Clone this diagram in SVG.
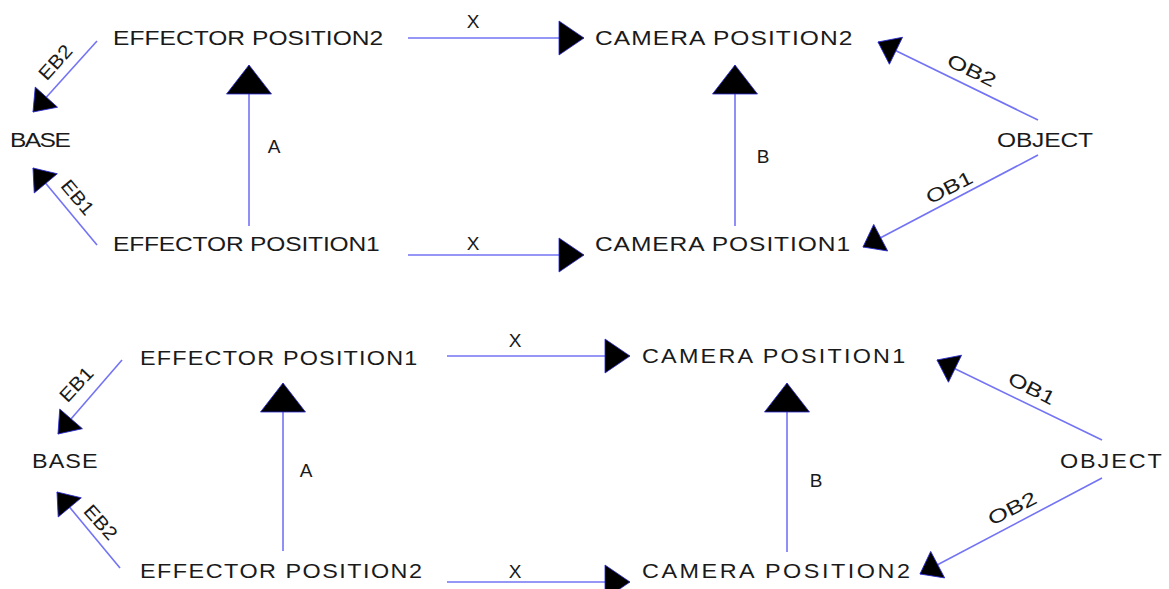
<svg xmlns="http://www.w3.org/2000/svg" width="1169" height="589" viewBox="0 0 1169 589">
<style>
  .bg{fill:#ffffff}
  .node{font-family:"Liberation Sans",Arial,sans-serif;fill:#1a1a1a;font-size:21px}
  .node2{font-family:"Liberation Sans",Arial,sans-serif;fill:#1a1a1a;font-size:20px}
  .lbl{font-family:"Liberation Sans",Arial,sans-serif;fill:#1a1a1a;font-size:19px;text-anchor:middle}
  .edge{stroke:#7373f5;stroke-width:1.6;fill:none}
  .head{fill:#000000;stroke:#2a2ad0;stroke-width:0.8}
</style>
<defs>
  <marker id="big" markerUnits="userSpaceOnUse" viewBox="-29 -22.5 30 45" refX="0" refY="0" markerWidth="30" markerHeight="45" orient="auto" overflow="visible">
    <path class="head" d="M0,0 L-29,-22.5 L-29,22.5 Z"/>
  </marker>
  <marker id="mid" markerUnits="userSpaceOnUse" viewBox="-25 -17 26 34" refX="0" refY="0" markerWidth="26" markerHeight="34" orient="auto" overflow="visible">
    <path class="head" d="M0,0 L-25,-17 L-25,17 Z"/>
  </marker>
  <marker id="small" markerUnits="userSpaceOnUse" viewBox="-20 -15 21 30" refX="0" refY="0" markerWidth="21" markerHeight="30" orient="auto" overflow="visible">
    <path class="head" d="M0,0 L-20,-15 L-20,15 Z"/>
  </marker>
</defs>
<rect class="bg" x="0" y="0" width="1169" height="589"/>

<g id="connectors">
  <!-- top diagram -->
  <line class="edge" x1="97" y1="41" x2="33" y2="112" marker-end="url(#small)"/>
  <line class="edge" x1="97" y1="245" x2="33" y2="168" marker-end="url(#small)"/>
  <line class="edge" x1="249" y1="226" x2="249" y2="65" marker-end="url(#big)"/>
  <line class="edge" x1="735" y1="226" x2="735" y2="65" marker-end="url(#big)"/>
  <line class="edge" x1="408" y1="38" x2="584" y2="38" marker-end="url(#mid)"/>
  <line class="edge" x1="408" y1="255" x2="584" y2="255" marker-end="url(#mid)"/>
  <line class="edge" x1="1038" y1="120" x2="878" y2="42" marker-end="url(#small)"/>
  <line class="edge" x1="1038" y1="155" x2="863" y2="247" marker-end="url(#small)"/>
  <!-- bottom diagram -->
  <line class="edge" x1="122" y1="360" x2="58" y2="434" marker-end="url(#small)"/>
  <line class="edge" x1="120" y1="568" x2="57" y2="492" marker-end="url(#small)"/>
  <line class="edge" x1="283" y1="551" x2="283" y2="383" marker-end="url(#big)"/>
  <line class="edge" x1="787" y1="552" x2="787" y2="383" marker-end="url(#big)"/>
  <line class="edge" x1="447" y1="356" x2="630" y2="356" marker-end="url(#mid)"/>
  <line class="edge" x1="447" y1="582" x2="630" y2="582" marker-end="url(#mid)"/>
  <line class="edge" x1="1102" y1="440" x2="937" y2="360" marker-end="url(#small)"/>
  <line class="edge" x1="1102" y1="478" x2="920" y2="574" marker-end="url(#small)"/>

  <!-- edge labels -->
  <text class="lbl" transform="translate(55,62) rotate(-48)" y="7" textLength="40" lengthAdjust="spacingAndGlyphs">EB2</text>
  <text class="lbl" transform="translate(78,197) rotate(50)" y="7" textLength="40" lengthAdjust="spacingAndGlyphs">EB1</text>
  <text class="lbl" x="473" y="28">X</text>
  <text class="lbl" x="473" y="250">X</text>
  <text class="lbl" x="274" y="153">A</text>
  <text class="lbl" x="763" y="163">B</text>
  <text class="lbl" transform="translate(972,70) rotate(26)" y="7" textLength="52" lengthAdjust="spacingAndGlyphs">OB2</text>
  <text class="lbl" transform="translate(949,187) rotate(-27)" y="7" textLength="50" lengthAdjust="spacingAndGlyphs">OB1</text>

  <text class="lbl" transform="translate(76,384) rotate(-47)" y="7" textLength="40" lengthAdjust="spacingAndGlyphs">EB1</text>
  <text class="lbl" transform="translate(101,522) rotate(48)" y="7" textLength="40" lengthAdjust="spacingAndGlyphs">EB2</text>
  <text class="lbl" x="515" y="347">X</text>
  <text class="lbl" x="515" y="578">X</text>
  <text class="lbl" x="306" y="477">A</text>
  <text class="lbl" x="816" y="487">B</text>
  <text class="lbl" transform="translate(1032,388) rotate(27)" y="7" textLength="50" lengthAdjust="spacingAndGlyphs">OB1</text>
  <text class="lbl" transform="translate(1012,508) rotate(-27)" y="7" textLength="52" lengthAdjust="spacingAndGlyphs">OB2</text>
</g>

<!-- top diagram nodes -->
<g id="top-effector2" transform="translate(113,45) scale(1.17,1)"><text class="node" x="0" y="0" textLength="231" lengthAdjust="spacing">EFFECTOR POSITION2</text></g>
<g id="top-effector1" transform="translate(113,251) scale(1.17,1)"><text class="node" x="0" y="0" textLength="228" lengthAdjust="spacing">EFFECTOR POSITION1</text></g>
<g id="top-camera2" transform="translate(595,45) scale(1.17,1)"><text class="node" x="0" y="0" textLength="220" lengthAdjust="spacing">CAMERA POSITION2</text></g>
<g id="top-camera1" transform="translate(595,251) scale(1.17,1)"><text class="node" x="0" y="0" textLength="218" lengthAdjust="spacing">CAMERA POSITION1</text></g>
<g id="top-base" transform="translate(10,147) scale(1.17,1)"><text class="node" x="0" y="0" textLength="52" lengthAdjust="spacing">BASE</text></g>
<g id="top-object" transform="translate(997,147) scale(1.17,1)"><text class="node" x="0" y="0" textLength="82" lengthAdjust="spacing">OBJECT</text></g>

<!-- bottom diagram nodes -->
<g id="bot-effector1" transform="translate(140,365) scale(1.17,1)"><text class="node2" x="0" y="0" textLength="237" lengthAdjust="spacing">EFFECTOR POSITION1</text></g>
<g id="bot-effector2" transform="translate(140,578) scale(1.17,1)"><text class="node2" x="0" y="0" textLength="241" lengthAdjust="spacing">EFFECTOR POSITION2</text></g>
<g id="bot-camera1" transform="translate(642,363) scale(1.17,1)"><text class="node2" x="0" y="0" textLength="225" lengthAdjust="spacing">CAMERA POSITION1</text></g>
<g id="bot-camera2" transform="translate(642,578) scale(1.17,1)"><text class="node2" x="0" y="0" textLength="229" lengthAdjust="spacing">CAMERA POSITION2</text></g>
<g id="bot-base" transform="translate(32,468) scale(1.17,1)"><text class="node2" x="0" y="0" textLength="56" lengthAdjust="spacing">BASE</text></g>
<g id="bot-object" transform="translate(1060,468) scale(1.17,1)"><text class="node2" x="0" y="0" textLength="87" lengthAdjust="spacing">OBJECT</text></g>
</svg>
